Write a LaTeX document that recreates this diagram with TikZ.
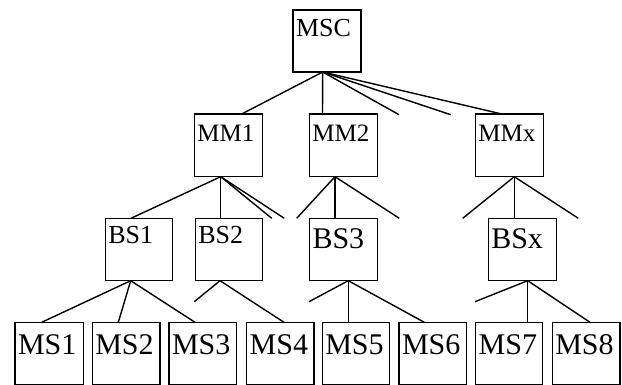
\documentclass[tikz,border=0pt]{standalone}
\usepackage{fontspec}
\setmainfont{Liberation Serif}
\begin{document}
\begin{tikzpicture}[x=1pt,y=-1pt,line width=1.4pt,
  box/.style={draw,inner sep=0pt,outer sep=0pt,anchor=north west},
  lbl/.style={anchor=base west,inner sep=0pt},
  conn/.style={line cap=butt}]
\useasboundingbox (0,0) rectangle (622,385);
% #1 name, #2 x, #3 y, #4 w, #5 h, #6 text, #7 size, #8 baseline offset
\newcommand\mybox[8]{%
  \node[box,minimum width=#4pt,minimum height=#5pt] (#1) at (#2,#3) {};
  \node[lbl,font=\fontsize{#7}{#7}\selectfont] (#1t) at ([xshift=2.3pt,yshift=-#8pt]#1.north west) {#6};}
\mybox{MSC}{293}{10}{68}{62}{MSC}{26}{26.7}
\mybox{MMa}{194.3}{114}{68}{62.7}{MM1}{25}{27.7}
\mybox{MMb}{309.3}{114}{68}{62.7}{MM2}{25}{27.7}
\mybox{MMx}{475.3}{114}{68}{62.7}{MMx}{25}{27.7}
\mybox{BSa}{105.3}{218.3}{67.2}{62.4}{BS1}{26}{25}
\mybox{BSb}{195.3}{218.3}{67}{62.4}{BS2}{26}{25}
\mybox{BSc}{309.5}{218.3}{67.8}{62.4}{BS3}{30}{30}
\mybox{BSx}{488.3}{218.3}{68.2}{62.4}{BSx}{30}{30}
\mybox{MSa}{15}{322.3}{68.3}{62}{MS1}{30}{31.7}
\mybox{MSb}{92.3}{322.3}{67.7}{62}{MS2}{30}{31.7}
\mybox{MSc}{169}{322.3}{67.7}{62}{MS3}{30}{31.7}
\mybox{MSd}{246.7}{322.3}{67.3}{62}{MS4}{30}{31.7}
\mybox{MSe}{322.3}{322.3}{67}{62}{MS5}{30}{31.7}
\mybox{MSf}{399}{322.3}{67.7}{62}{MS6}{30}{31.7}
\mybox{MSg}{475.7}{322.3}{67}{62}{MS7}{30}{31.7}
\mybox{MSh}{552.3}{322.3}{67.7}{62}{MS8}{30}{31.7}
% junctions
\coordinate (j0) at ([xshift=29.7pt]MSC.south west);
\coordinate (j1) at ([xshift=26.4pt]MMa.south west);
\coordinate (j2) at ([xshift=25.7pt]MMb.south west);
\coordinate (j3) at ([xshift=39pt]MMx.south west);
\coordinate (k1) at ([xshift=25.4pt]BSa.south west);
\coordinate (k2) at ([xshift=24.7pt]BSb.south west);
\coordinate (k3) at ([xshift=38.8pt]BSc.south west);
\coordinate (k4) at ([xshift=39.4pt]BSx.south west);
% free ends
\coordinate (f1) at (399,114.7);
\coordinate (f2) at (450.7,114.7);
\coordinate (f3) at (271.7,218.3);
\coordinate (f4) at (284.3,218.3);
\coordinate (f5) at (296.7,218.3);
\coordinate (f6) at (399.3,218.3);
\coordinate (f7) at (462.7,218.3);
\coordinate (f8) at (578.3,218.3);
\coordinate (g1) at (194.3,301.7);
\coordinate (g2) at (309,301.7);
\coordinate (g3) at (475,301.7);
% connectors
\draw[conn] (j0) -- ([xshift=47.4pt]MMa.north west);
\draw[conn] (j0) -- ([xshift=13.2pt]MMb.north west);
\draw[conn] (j0) -- (f1);
\draw[conn] (j0) -- (f2);
\draw[conn] (j0) -- ([xshift=26.4pt]MMx.north west);
\draw[conn] (j1) -- ([xshift=25.7pt]BSa.north west);
\draw[conn] (j1) -- ([xshift=25.4pt]BSb.north west);
\draw[conn] (j1) -- (f3);
\draw[conn] (j1) -- (f4);
\draw[conn] (j2) -- (f5);
\draw[conn] (j2) -- ([xshift=25.5pt]BSc.north west);
\draw[conn] (j2) -- (f6);
\draw[conn] (j3) -- (f7);
\draw[conn] (j3) -- ([xshift=26pt]BSx.north west);
\draw[conn] (j3) -- (f8);
\draw[conn] (k1) -- ([xshift=26.7pt]MSa.north west);
\draw[conn] (k1) -- ([xshift=26pt]MSb.north west);
\draw[conn] (k1) -- ([xshift=26pt]MSc.north west);
\draw[conn] (k2) -- (g1);
\draw[conn] (k2) -- ([xshift=37.3pt]MSd.north west);
\draw[conn] (k3) -- (g2);
\draw[conn] (k3) -- ([xshift=26pt]MSe.north west);
\draw[conn] (k3) -- ([xshift=25.3pt]MSf.north west);
\draw[conn] (k4) -- (g3);
\draw[conn] (k4) -- ([xshift=52pt]MSg.north west);
\draw[conn] (k4) -- ([xshift=37.7pt]MSh.north west);
\end{tikzpicture}
\end{document}
